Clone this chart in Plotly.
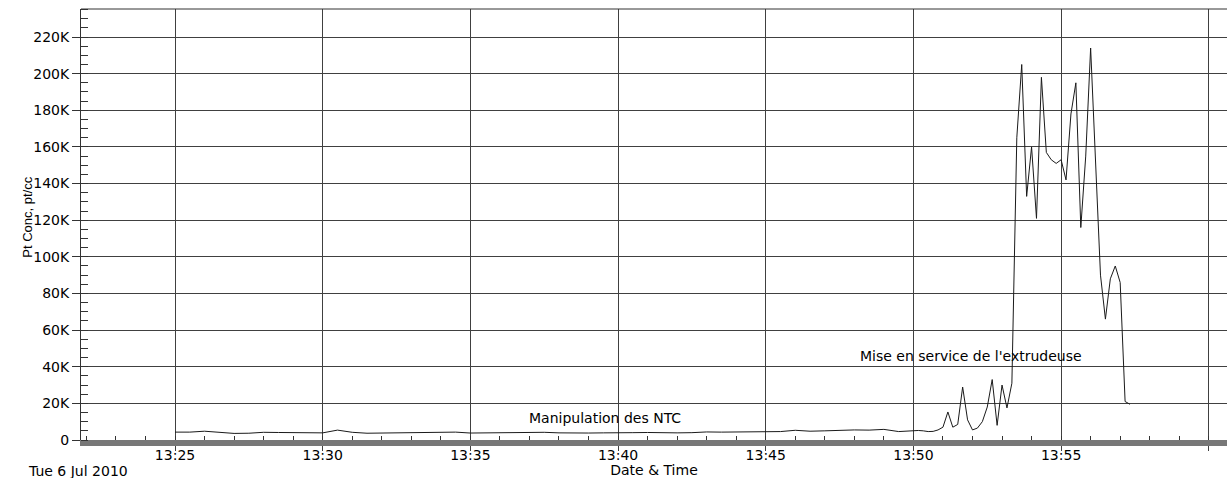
"""
Concentration de particules pendant l'essai du 6 juillet 2010.
"""
import plotly.graph_objects as go

DAY = '2010-07-06 '

# relevés (heure, pt/cc)
times = [
    '13:25:00', '13:25:30', '13:26:00', '13:26:30', '13:27:00', '13:27:30',
    '13:28:00', '13:28:30', '13:29:00', '13:29:30', '13:30:00', '13:30:30',
    '13:31:00', '13:31:30', '13:32:00', '13:32:30', '13:33:00', '13:33:30',
    '13:34:00', '13:34:30', '13:35:00', '13:35:30', '13:36:00', '13:36:30',
    '13:37:00', '13:37:30', '13:38:00', '13:38:30', '13:39:00', '13:39:30',
    '13:40:00', '13:40:30', '13:41:00', '13:41:30', '13:42:00', '13:42:30',
    '13:43:00', '13:43:30', '13:44:00', '13:44:30', '13:45:00', '13:45:30',
    '13:46:00', '13:46:30', '13:47:00', '13:47:30', '13:48:00', '13:48:30',
    '13:49:00', '13:49:30',
    '13:50:00', '13:50:10', '13:50:20', '13:50:30', '13:50:40', '13:50:50',
    '13:51:00', '13:51:10', '13:51:20', '13:51:30', '13:51:40', '13:51:50',
    '13:52:00', '13:52:10', '13:52:20', '13:52:30', '13:52:40', '13:52:50',
    '13:53:00', '13:53:10', '13:53:20', '13:53:30', '13:53:40', '13:53:50',
    '13:54:00', '13:54:10', '13:54:20', '13:54:30', '13:54:40', '13:54:50',
    '13:55:00', '13:55:10', '13:55:20', '13:55:30', '13:55:40', '13:55:50',
    '13:56:00', '13:56:10', '13:56:20', '13:56:30', '13:56:40', '13:56:50',
    '13:57:00', '13:57:10', '13:57:20',
]
conc = [
    4300, 4300, 4800, 4300, 3600, 3700,
    4200, 4100, 4100, 4100, 3900, 5400,
    4200, 3700, 3800, 3600, 3900, 3700,
    3900, 4300, 3800, 3900, 4100, 3800,
    4000, 4200, 3900, 3700, 3800, 3900,
    3800, 4000, 4100, 3800, 3900, 4000,
    4400, 4300, 4300, 4400, 4400, 4600,
    5300, 4800, 5000, 5300, 5500, 5400,
    5800, 4600,
    5300, 5200, 5000, 4600, 4700, 5500,
    7000, 15300, 7000, 8500, 28900, 11000,
    5500, 6500, 10000, 18000, 33000, 8000,
    30000, 17500, 31000, 165000, 205000, 133000,
    160000, 121000, 198000, 157000, 153000, 151000,
    153000, 142000, 178000, 195000, 116000, 155000,
    214000, 150000, 90000, 66000, 88000, 95000,
    86000, 21000, 19500,
]

y_ticks = [0, 20000, 40000, 60000, 80000, 100000, 120000,
           140000, 160000, 180000, 200000, 220000]
y_labels = ['0', '20K', '40K', '60K', '80K', '100K', '120K',
            '140K', '160K', '180K', '200K', '220K']

notes = [
    ('13:39:33', 11800, 'Manipulation des NTC'),
    ('13:51:56', 45600, "Mise en service de l'extrudeuse"),
]

FONT = 'DejaVu Sans'
GRID = '#404040'

fig = go.Figure()
fig.add_trace(go.Scatter(
    x=[DAY + t for t in times], y=conc, mode='lines',
    line=dict(color='#1a1a1a', width=1), showlegend=False,
))

for t, v, txt in notes:
    fig.add_annotation(x=DAY + t, y=v, text=txt, showarrow=False,
                       font=dict(family=FONT, size=14, color='black'))

fig.add_annotation(x=0, y=0.517, xref='paper', yref='paper', xshift=-63,
                   text='Pt Conc, pt/cc', textangle=-90, showarrow=False,
                   font=dict(family='Liberation Sans', size=13, color='black'))
fig.add_annotation(x=0, y=0, xref='paper', yref='paper', xanchor='left',
                   yanchor='middle', xshift=-55, yshift=-31,
                   text='Tue 6 Jul 2010', showarrow=False,
                   font=dict(family=FONT, size=14, color='black'))
# bord supérieur du cadre
fig.add_shape(type='line', xref='paper', yref='paper', x0=0, x1=1, y0=1, y1=1,
              line=dict(color='#333333', width=1))

fig.update_layout(
    width=1227, height=478,
    margin=dict(l=81, r=0, t=9, b=38),
    paper_bgcolor='white', plot_bgcolor='white',
    font=dict(family=FONT, size=14, color='black'),
    xaxis=dict(
        range=[DAY + '13:21:49', DAY + '14:00:37'],
        tick0=DAY + '13:25:00', dtick=300000, tickformat='%H:%M',
        showgrid=True, gridcolor=GRID, gridwidth=1,
        ticks='outside', ticklen=5, tickcolor=GRID,
        ticklabelstandoff=-8,
        showline=True, linecolor='#777777', linewidth=6,
        minor=dict(dtick=60000, tick0=DAY + '13:25:00', ticks='inside',
                   ticklen=4, tickcolor='#333333', showgrid=False),
        title=dict(text='Date & Time', standoff=3,
                   font=dict(family=FONT, size=14, color='black')),
        automargin=False, zeroline=False,
    ),
    yaxis=dict(
        range=[0, 235300],
        tickmode='array', tickvals=y_ticks, ticktext=y_labels,
        showgrid=True, gridcolor=GRID, gridwidth=1,
        ticks='outside', ticklen=8, tickcolor='#333333',
        showline=True, linecolor='#333333', linewidth=1,
        minor=dict(dtick=5000, tick0=0, ticks='inside', ticklen=7,
                   tickcolor='#333333', showgrid=False),
        automargin=False, zeroline=False,
    ),
)

fig.write_html('out.html', config={'displayModeBar': False},
               post_script="document.body.style.margin='0';"
                           "document.body.style.overflow='hidden';")
